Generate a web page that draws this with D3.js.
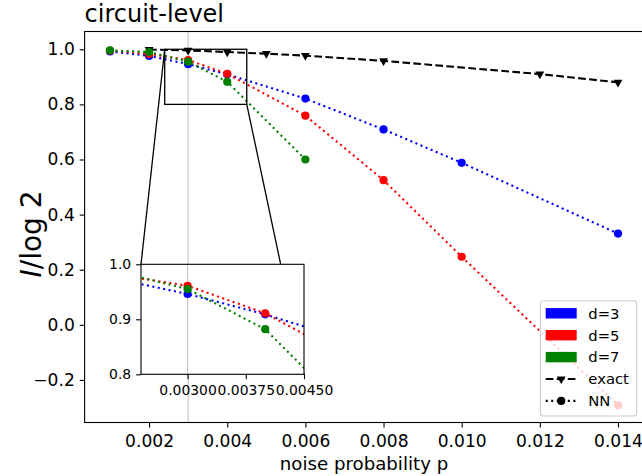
<!DOCTYPE html>
<html>
<head>
<meta charset="utf-8">
<script src="https://cdn.jsdelivr.net/npm/d3@7"></script>
<style>
  html, body { margin: 0; padding: 0; background: #fff; }
  svg { display: block; font-family: "DejaVu Sans", sans-serif; }
</style>
</head>
<body>
<svg id="chart" width="642" height="476"></svg>
<script>
// Noise probabilities for the NN estimates
const pNN = [0.001, 0.002, 0.003, 0.004, 0.006, 0.008, 0.010, 0.014];
const nnD3 = [0.992, 0.976, 0.946, 0.909, 0.821, 0.709, 0.588, 0.331];
const nnD5 = [0.995, 0.983, 0.961, 0.911, 0.759, 0.525, 0.247, -0.292];
// d=7 only computed up to p = 0.006
const pNN7 = [0.001, 0.002, 0.003, 0.004, 0.006];
const nnD7 = [0.996, 0.990, 0.955, 0.882, 0.600];
// Exact curve
const pExact = [0.002, 0.003, 0.004, 0.005, 0.006, 0.008, 0.012, 0.014];
const exactVals = [0.999, 0.996, 0.990, 0.984, 0.977, 0.958, 0.910, 0.880];

const xTicks = [0.002, 0.004, 0.006, 0.008, 0.010, 0.012, 0.014];
const yTicks = [-0.2, 0.0, 0.2, 0.4, 0.6, 0.8, 1.0];
const insetXTicks = [0.003, 0.00375, 0.0045];
const insetYTicks = [0.8, 0.9, 1.0];
const markedP = 0.003;

const seriesNames = ["d=3", "d=5", "d=7"];
const seriesColors = ["#0000ff", "#ff0000", "#008000"];

const svg = d3.select("#chart");

// Main axes frame
const L = 84.6, R = 643.4, T = 31.5, B = 422.5;
const x = d3.scaleLinear().domain([0.00035, 0.01465]).range([L, R]);
const y = d3.scaleLinear().domain([-0.3545, 1.0645]).range([B, T]);

// Inset frame
const iL = 141, iR = 304, iT = 264.3, iB = 374.3;
const ix = d3.scaleLinear().domain([0.0024, 0.0045]).range([iL, iR]);
const iy = d3.scaleLinear().domain([0.8, 1.0]).range([iB, iT]);

const dotted = "2.08,3.44";
const dashed = "7.7,3.33";

const defs = svg.append("defs");
defs.append("clipPath").attr("id", "mainClip")
  .append("rect").attr("x", L).attr("y", T).attr("width", R - L).attr("height", B - T);
defs.append("clipPath").attr("id", "insetClip")
  .append("rect").attr("x", iL).attr("y", iT).attr("width", iR - iL).attr("height", iB - iT);

const main = svg.append("g");
const plot = main.append("g").attr("clip-path", "url(#mainClip)");

// Reference line at the marked probability
plot.append("line")
  .attr("x1", x(markedP)).attr("x2", x(markedP))
  .attr("y1", T).attr("y2", B)
  .attr("stroke", "#c4c4c4").attr("stroke-width", 1.1);

// Exact curve
const line = (sx, sy) => d3.line().x(d => sx(d[0])).y(d => sy(d[1]));
const exactPts = pExact.map((p, i) => [p, exactVals[i]]);
plot.append("path").datum(exactPts)
  .attr("d", line(x, y))
  .attr("fill", "none").attr("stroke", "#000").attr("stroke-width", 2.08)
  .attr("stroke-dasharray", dashed);
const tri = d3.symbol().type(d3.symbolTriangle).size(34);
plot.selectAll(".tri").data(exactPts).enter().append("path")
  .attr("d", tri)
  .attr("transform", d => `translate(${x(d[0])},${y(d[1])}) rotate(180)`)
  .attr("fill", "#000");

// NN curves
const nnSeries = [
  { p: pNN, v: nnD3, color: seriesColors[0] },
  { p: pNN, v: nnD5, color: seriesColors[1] },
  { p: pNN7, v: nnD7, color: seriesColors[2] }
];

function drawNN(g, sx, sy) {
  nnSeries.forEach(s => {
    const pts = s.p.map((p, i) => [p, s.v[i]]);
    g.append("path").datum(pts)
      .attr("d", line(sx, sy))
      .attr("fill", "none").attr("stroke", s.color).attr("stroke-width", 2.08)
      .attr("stroke-dasharray", dotted);
    g.selectAll(null).data(pts).enter().append("circle")
      .attr("cx", d => sx(d[0])).attr("cy", d => sy(d[1]))
      .attr("r", 4.1).attr("fill", s.color);
  });
}
drawNN(plot, x, y);

// Zoom rectangle and connector lines
const zx0 = ix.domain()[0], zx1 = ix.domain()[1];
const zy0 = iy.domain()[0], zy1 = iy.domain()[1];
main.append("rect")
  .attr("x", x(zx0)).attr("y", y(zy1))
  .attr("width", x(zx1) - x(zx0)).attr("height", y(zy0) - y(zy1))
  .attr("fill", "none").attr("stroke", "#000").attr("stroke-width", 1.3);
main.append("line")
  .attr("x1", x(zx0)).attr("y1", y(zy1)).attr("x2", iL).attr("y2", iT)
  .attr("stroke", "#000").attr("stroke-width", 1.3);
main.append("line")
  .attr("x1", x(zx1)).attr("y1", y(zy0)).attr("x2", iR).attr("y2", iB)
  .attr("stroke", "#000").attr("stroke-width", 1.3);

// Main axes
const xAxis = d3.axisBottom(x).tickValues(xTicks).tickFormat(d3.format(".3f"))
  .tickSize(4.9).tickPadding(7.4);
const yAxis = d3.axisLeft(y).tickValues(yTicks).tickFormat(d3.format(".1f"))
  .tickSize(4.9).tickPadding(4.9);
const gx = main.append("g").attr("transform", `translate(0,${B})`).call(xAxis);
const gy = main.append("g").attr("transform", `translate(${L},0)`).call(yAxis);
[gx, gy].forEach(g => {
  g.select(".domain").remove();
  g.selectAll(".tick line").attr("stroke", "#000").attr("stroke-width", 1.1);
  g.selectAll(".tick text").attr("fill", "#000").style("font-size", "17.1px")
    .style("font-family", "DejaVu Sans");
});

// Spines
main.append("rect").attr("x", L).attr("y", T).attr("width", R - L).attr("height", B - T)
  .attr("fill", "none").attr("stroke", "#000").attr("stroke-width", 1.1);

// Title and axis labels
svg.append("text").attr("x", L).attr("y", 21.5)
  .style("font-size", "24px").attr("fill", "#000").text("circuit-level");
svg.append("text").attr("x", (L + R) / 2).attr("y", 470)
  .attr("text-anchor", "middle").style("font-size", "18.2px").attr("fill", "#000")
  .text("noise probability p");
const yl = svg.append("text")
  .attr("transform", "translate(41,234) rotate(-90)")
  .attr("text-anchor", "middle").style("font-size", "28px").attr("fill", "#000");
yl.append("tspan").style("font-style", "italic").text("I");
yl.append("tspan").text("/log 2");

// Inset axes
const inset = svg.append("g");
inset.append("rect").attr("x", iL).attr("y", iT).attr("width", iR - iL).attr("height", iB - iT)
  .attr("fill", "#fff");
const iplot = inset.append("g").attr("clip-path", "url(#insetClip)");
iplot.append("line")
  .attr("x1", ix(markedP)).attr("x2", ix(markedP))
  .attr("y1", iT).attr("y2", iB)
  .attr("stroke", "#c4c4c4").attr("stroke-width", 1.1);
drawNN(iplot, ix, iy);
const igx = inset.append("g").attr("transform", `translate(0,${iB})`)
  .call(d3.axisBottom(ix).tickValues(insetXTicks).tickFormat(d3.format(".5f"))
    .tickSize(4.9).tickPadding(6));
const igy = inset.append("g").attr("transform", `translate(${iL},0)`)
  .call(d3.axisLeft(iy).tickValues(insetYTicks).tickFormat(d3.format(".1f"))
    .tickSize(4.9).tickPadding(4.9));
[igx, igy].forEach(g => {
  g.select(".domain").remove();
  g.selectAll(".tick line").attr("stroke", "#000").attr("stroke-width", 1.1);
  g.selectAll(".tick text").attr("fill", "#000").style("font-size", "13.9px")
    .style("font-family", "DejaVu Sans");
});
inset.append("rect").attr("x", iL).attr("y", iT).attr("width", iR - iL).attr("height", iB - iT)
  .attr("fill", "none").attr("stroke", "#000").attr("stroke-width", 1.1);

// Legend
const lg = svg.append("g");
lg.append("rect").attr("x", 540.3).attr("y", 300.7).attr("width", 96.4).attr("height", 115.3)
  .attr("rx", 3).attr("fill", "#fff").attr("fill-opacity", 0.8)
  .attr("stroke", "#cccccc").attr("stroke-width", 1.1);
const rowY = i => 313.3 + i * 21.9;
const hx0 = 545.7, hx1 = 576.7, tx = 588.3;
seriesNames.forEach((name, i) => {
  lg.append("rect").attr("x", hx0).attr("y", rowY(i) - 5.2)
    .attr("width", hx1 - hx0).attr("height", 10.4).attr("fill", seriesColors[i]);
  lg.append("text").attr("x", tx).attr("y", rowY(i)).attr("dy", "0.36em")
    .style("font-size", "14.8px").attr("fill", "#000").text(name);
});
const legendLines = [
  { name: "exact", dash: dashed, marker: "tri" },
  { name: "NN", dash: dotted, marker: "circle" }
];
legendLines.forEach((e, j) => {
  const yy = rowY(3 + j);
  lg.append("line").attr("x1", hx0).attr("x2", hx1).attr("y1", yy).attr("y2", yy)
    .attr("stroke", "#000").attr("stroke-width", 2.08).attr("stroke-dasharray", e.dash);
  const cx = (hx0 + hx1) / 2;
  if (e.marker === "tri") {
    lg.append("path").attr("d", tri)
      .attr("transform", `translate(${cx},${yy}) rotate(180)`).attr("fill", "#000");
  } else {
    lg.append("circle").attr("cx", cx).attr("cy", yy).attr("r", 4.1).attr("fill", "#000");
  }
  lg.append("text").attr("x", tx).attr("y", yy).attr("dy", "0.36em")
    .style("font-size", "14.8px").attr("fill", "#000").text(e.name);
});
</script>
</body>
</html>
